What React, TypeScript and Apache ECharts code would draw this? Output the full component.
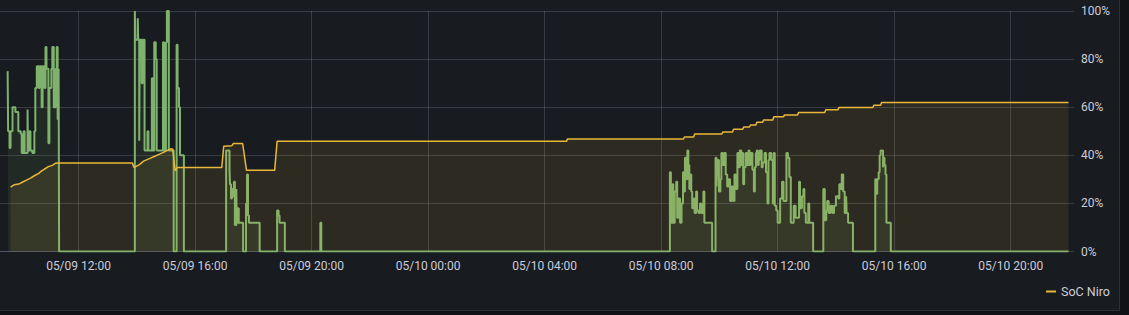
import React, { useEffect, useRef } from 'react';
import * as echarts from 'echarts';

const YEAR = 2024;
// axis starts on a 4-hour boundary (off-panel to the left); the visible part begins at 09:17
const X_MIN = '05-09 08:00';
const X_MAX = '05-10 22:00';
const X_TICK_HOURS = 4;
const Y_MIN = 0;
const Y_MAX = 100;
const Y_STEP = 20;
const SERIES_POWER = 'Leistung';
const SERIES_SOC = 'SoC Niro';
const LEGEND_ITEMS = ['SoC Niro'];

// green series (step values, %)
const powerMorning: [string, number][] = [
  ['05-09 09:34', 75], ['05-09 09:35', 50], ['05-09 09:38', 43], ['05-09 09:40', 50], ['05-09 09:44', 60],
  ['05-09 09:50', 58], ['05-09 09:56', 50], ['05-09 10:01', 49], ['05-09 10:03', 41], ['05-09 10:07', 50],
  ['05-09 10:09', 41], ['05-09 10:15', 59], ['05-09 10:16', 42], ['05-09 10:19', 50], ['05-09 10:21', 42],
  ['05-09 10:25', 41], ['05-09 10:29', 50], ['05-09 10:31', 68], ['05-09 10:34', 77], ['05-09 10:38', 68],
  ['05-09 10:40', 77], ['05-09 10:44', 60], ['05-09 10:46', 77], ['05-09 10:50', 68], ['05-09 10:52', 85],
  ['05-09 10:54', 76], ['05-09 10:58', 45], ['05-09 11:00', 68], ['05-09 11:04', 76], ['05-09 11:06', 85],
  ['05-09 11:09', 60], ['05-09 11:13', 76], ['05-09 11:15', 85], ['05-09 11:17', 55], ['05-09 11:19', 76],
  ['05-09 11:20', 0],
];
const powerAfternoon: [string, number][] = [
  ['05-09 13:56', 100], ['05-09 13:57', 88], ['05-09 14:02', 97], ['05-09 14:03', 88], ['05-09 14:05', 46],
  ['05-09 14:06', 88], ['05-09 14:10', 70], ['05-09 14:12', 88], ['05-09 14:16', 42], ['05-09 14:22', 50],
  ['05-09 14:24', 42], ['05-09 14:31', 72], ['05-09 14:33', 42], ['05-09 14:36', 87], ['05-09 14:39', 80],
  ['05-09 14:41', 42], ['05-09 14:54', 87], ['05-09 14:56', 42], ['05-09 15:00', 87], ['05-09 15:02', 100],
  ['05-09 15:06', 42], ['05-09 15:16', 0], ['05-09 15:22', 86], ['05-09 15:24', 68], ['05-09 15:27', 60],
  ['05-09 15:29', 40], ['05-09 15:37', 0],
];
const powerEvening: [string, number][] = [
  ['05-09 17:04', 42], ['05-09 17:11', 34], ['05-09 17:12', 28], ['05-09 17:14', 22], ['05-09 17:16', 26],
  ['05-09 17:18', 23], ['05-09 17:20', 29], ['05-09 17:22', 11], ['05-09 17:25', 26], ['05-09 17:26', 12],
  ['05-09 17:28', 18], ['05-09 17:30', 12], ['05-09 17:39', 0], ['05-09 17:45', 20], ['05-09 17:47', 32],
  ['05-09 17:49', 15], ['05-09 17:51', 12], ['05-09 18:13', 0], ['05-09 18:49', 17], ['05-09 18:52', 15],
  ['05-09 18:54', 12], ['05-09 19:05', 0], ['05-09 20:18', 12], ['05-09 20:20', 0],
];
const powerNextMorning: [string, number][] = [
  ['05-10 08:18', 33], ['05-10 08:20', 12], ['05-10 08:23', 28], ['05-10 08:25', 12], ['05-10 08:28', 25],
  ['05-10 08:31', 29], ['05-10 08:33', 14], ['05-10 08:36', 22], ['05-10 08:39', 12], ['05-10 08:42', 20],
  ['05-10 08:45', 33], ['05-10 08:47', 25], ['05-10 08:49', 39], ['05-10 08:52', 30], ['05-10 08:54', 42],
  ['05-10 08:56', 36], ['05-10 08:58', 26], ['05-10 09:00', 32], ['05-10 09:02', 25], ['05-10 09:04', 18],
  ['05-10 09:07', 22], ['05-10 09:09', 16], ['05-10 09:12', 25], ['05-10 09:14', 17], ['05-10 09:17', 16],
  ['05-10 09:20', 20], ['05-10 09:23', 16], ['05-10 09:27', 25], ['05-10 09:29', 12], ['05-10 09:45', 0],
];
const powerMidday: [string, number][] = [
  ['05-10 09:52', 39], ['05-10 09:54', 27], ['05-10 09:55', 33], ['05-10 09:57', 38], ['05-10 09:59', 25],
  ['05-10 10:02', 30], ['05-10 10:04', 41], ['05-10 10:07', 36], ['05-10 10:10', 41], ['05-10 10:13', 32],
  ['05-10 10:16', 27], ['05-10 10:19', 30], ['05-10 10:22', 21], ['05-10 10:25', 27], ['05-10 10:28', 21],
  ['05-10 10:31', 32], ['05-10 10:34', 26], ['05-10 10:37', 41], ['05-10 10:40', 35], ['05-10 10:42', 42],
  ['05-10 10:45', 36], ['05-10 10:47', 41], ['05-10 10:49', 28], ['05-10 10:51', 35], ['05-10 10:54', 41],
  ['05-10 10:57', 36], ['05-10 11:00', 42], ['05-10 11:02', 36], ['05-10 11:04', 41], ['05-10 11:08', 34],
  ['05-10 11:11', 25], ['05-10 11:13', 35], ['05-10 11:15', 41], ['05-10 11:17', 42], ['05-10 11:19', 36],
  ['05-10 11:21', 38], ['05-10 11:23', 42], ['05-10 11:25', 42], ['05-10 11:27', 35], ['05-10 11:29', 37],
  ['05-10 11:33', 41], ['05-10 11:36', 33], ['05-10 11:39', 20], ['05-10 11:41', 38], ['05-10 11:43', 41],
  ['05-10 11:47', 38], ['05-10 11:50', 20], ['05-10 11:52', 41], ['05-10 11:54', 19], ['05-10 11:57', 17],
  ['05-10 12:00', 12], ['05-10 12:05', 22], ['05-10 12:09', 29], ['05-10 12:12', 21], ['05-10 12:18', 41],
  ['05-10 12:21', 39], ['05-10 12:24', 31], ['05-10 12:27', 12], ['05-10 12:33', 19], ['05-10 12:37', 14],
  ['05-10 12:44', 29], ['05-10 12:46', 18], ['05-10 12:50', 23], ['05-10 12:53', 26], ['05-10 12:55', 16],
  ['05-10 12:58', 12], ['05-10 13:03', 20], ['05-10 13:05', 12], ['05-10 13:13', 0],
];
const powerAfternoon2: [string, number][] = [
  ['05-10 13:34', 26], ['05-10 13:37', 13], ['05-10 13:40', 17], ['05-10 13:42', 21], ['05-10 13:45', 16],
  ['05-10 13:49', 19], ['05-10 13:53', 16], ['05-10 13:56', 19], ['05-10 14:00', 23], ['05-10 14:05', 22],
  ['05-10 14:07', 28], ['05-10 14:10', 26], ['05-10 14:12', 32], ['05-10 14:15', 25], ['05-10 14:18', 16],
  ['05-10 14:21', 23], ['05-10 14:22', 16], ['05-10 14:25', 12], ['05-10 14:35', 0],
  ['05-10 15:21', 30], ['05-10 15:23', 24], ['05-10 15:25', 30], ['05-10 15:28', 33], ['05-10 15:30', 40],
  ['05-10 15:32', 42], ['05-10 15:37', 35], ['05-10 15:38', 39], ['05-10 15:40', 36], ['05-10 15:42', 32],
  ['05-10 15:44', 12], ['05-10 15:53', 0], ['05-10 21:59', 0],
];

// SoC Niro (%)
const socDay1: [string, number][] = [
  ['05-09 09:40', 26.8], ['05-09 09:48', 27.8], ['05-09 09:59', 28.2], ['05-09 10:05', 28.9], ['05-09 10:13', 29.7],
  ['05-09 10:21', 30.5], ['05-09 10:29', 31.5], ['05-09 10:38', 32.5], ['05-09 10:44', 33.5], ['05-09 10:50', 34.3],
  ['05-09 10:58', 35.3], ['05-09 11:06', 35.8], ['05-09 11:13', 36.7], ['05-09 11:17', 36.8], ['05-09 13:51', 36.8],
  ['05-09 13:54', 35], ['05-09 13:59', 35.4], ['05-09 14:06', 36.2], ['05-09 14:14', 37.6], ['05-09 14:26', 38.6],
  ['05-09 14:37', 39.6], ['05-09 14:47', 40.5], ['05-09 14:57', 41.4], ['05-09 15:09', 42.6], ['05-09 15:14', 42.6],
  ['05-09 15:19', 33.6], ['05-09 15:23', 34.9], ['05-09 16:55', 34.9], ['05-09 16:59', 43.75], ['05-09 17:16', 44],
  ['05-09 17:19', 44.9], ['05-09 17:38', 44.9], ['05-09 17:46', 33.75], ['05-09 18:44', 33.75], ['05-09 18:49', 45.8],
];
const socDay2: [string, number][] = [
  ['05-10 04:45', 45.8], ['05-10 04:47', 46.8], ['05-10 08:46', 46.8], ['05-10 08:48', 47.6], ['05-10 09:07', 47.6],
  ['05-10 09:09', 48.9], ['05-10 10:05', 48.9], ['05-10 10:07', 49.7], ['05-10 10:27', 49.7], ['05-10 10:29', 50.8],
  ['05-10 10:48', 50.8], ['05-10 10:50', 51.8], ['05-10 11:02', 51.8], ['05-10 11:04', 52.6], ['05-10 11:15', 52.6],
  ['05-10 11:17', 53.75], ['05-10 11:29', 53.75], ['05-10 11:31', 54.7], ['05-10 11:50', 54.7], ['05-10 11:52', 56],
  ['05-10 12:12', 56], ['05-10 12:14', 56.8], ['05-10 12:41', 56.8], ['05-10 12:43', 57.8], ['05-10 13:37', 57.8],
  ['05-10 13:39', 58.9], ['05-10 14:04', 58.9], ['05-10 14:06', 59.9], ['05-10 15:16', 59.9], ['05-10 15:18', 60.8],
  ['05-10 15:32', 60.8], ['05-10 15:34', 62], ['05-10 21:59', 62],
];

const toMs = (s: string): number => {
  const [md, hm] = s.split(' ');
  const [mo, d] = md.split('-').map(Number);
  const [h, mi] = hm.split(':').map(Number);
  return Date.UTC(YEAR, mo - 1, d, h, mi);
};
const pad = (n: number) => (n < 10 ? '0' + n : '' + n);
const fmt = (v: number) => {
  const d = new Date(v);
  return `${pad(d.getUTCMonth() + 1)}/${pad(d.getUTCDate())} ${pad(d.getUTCHours())}:${pad(d.getUTCMinutes())}`;
};

const TEXT = '#ccccdc';
const GRID = 'rgba(204,204,220,0.18)';
const FONT = 'Roboto, "Noto Sans", sans-serif';
const SHIFT = 38; // px of the axis (08:00 → 09:17) hidden left of the panel

export default function App() {
  const ref = useRef<HTMLDivElement>(null);
  useEffect(() => {
    const chart = echarts.init(ref.current!, null, { renderer: 'svg' });
    const power = [...powerMorning, ...powerAfternoon, ...powerEvening, ...powerNextMorning, ...powerMidday, ...powerAfternoon2]
      .map(([t, v]) => [toMs(t), v]);
    const soc = [...socDay1, ...socDay2].map(([t, v]) => [toMs(t), v]);
    chart.setOption({
      animation: false,
      backgroundColor: 'transparent',
      textStyle: { fontFamily: FONT },
      grid: { left: 0, right: 50, top: 11, bottom: 58.5, containLabel: false, outerBoundsMode: 'none' },
      legend: {
        data: LEGEND_ITEMS,
        right: 4,
        top: 280,
        icon: 'rect',
        itemWidth: 10,
        itemHeight: 2,
        itemGap: 10,
        textStyle: { color: TEXT, fontSize: 12.5, fontFamily: FONT },
      },
      xAxis: {
        type: 'value',
        min: toMs(X_MIN),
        max: toMs(X_MAX),
        interval: X_TICK_HOURS * 3600 * 1000,
        axisLine: { show: true, lineStyle: { color: GRID } },
        axisTick: { show: false },
        axisLabel: {
          color: TEXT, fontSize: 12, fontFamily: FONT, margin: 8,
          showMinLabel: false, showMaxLabel: false,
          formatter: (v: number) => fmt(v),
        },
        splitLine: { show: true, showMinLine: false, showMaxLine: false, lineStyle: { color: GRID, width: 1 } },
      },
      yAxis: {
        type: 'value',
        position: 'right',
        min: Y_MIN,
        max: Y_MAX,
        interval: Y_STEP,
        axisLine: { show: false },
        axisTick: { show: true, length: 5, lineStyle: { color: GRID } },
        axisLabel: { color: TEXT, fontSize: 12, fontFamily: FONT, margin: 12, formatter: '{value}%' },
        splitLine: { show: true, lineStyle: { color: GRID, width: 1 } },
      },
      series: [
        {
          name: SERIES_POWER,
          type: 'line',
          step: 'end',
          data: power,
          showSymbol: false,
          lineStyle: { color: '#7EB26D', width: 2 },
          itemStyle: { color: '#7EB26D' },
          areaStyle: { color: '#7EB26D', opacity: 0.1 },
          z: 2,
        },
        {
          name: SERIES_SOC,
          type: 'line',
          data: soc,
          showSymbol: false,
          lineStyle: { color: '#EAB839', width: 1.5 },
          itemStyle: { color: '#EAB839' },
          areaStyle: { color: '#EAB839', opacity: 0.1 },
          z: 3,
        },
      ],
    });
    return () => chart.dispose();
  }, []);
  return (
    <div style={{ position: 'fixed', left: 0, top: 0, width: 1129, height: 315, background: '#111217' }}>
      <div
        style={{
          position: 'absolute', left: 0, top: 0, width: 1119, height: 310, background: '#181b1f', overflow: 'hidden',
          borderRight: '1px solid rgba(204,204,220,0.12)', borderBottom: '1px solid rgba(204,204,220,0.12)',
        }}
      >
        <div ref={ref} style={{ position: 'absolute', left: -SHIFT, top: 0, width: 1119 + SHIFT, height: 310 }} />
      </div>
    </div>
  );
}
